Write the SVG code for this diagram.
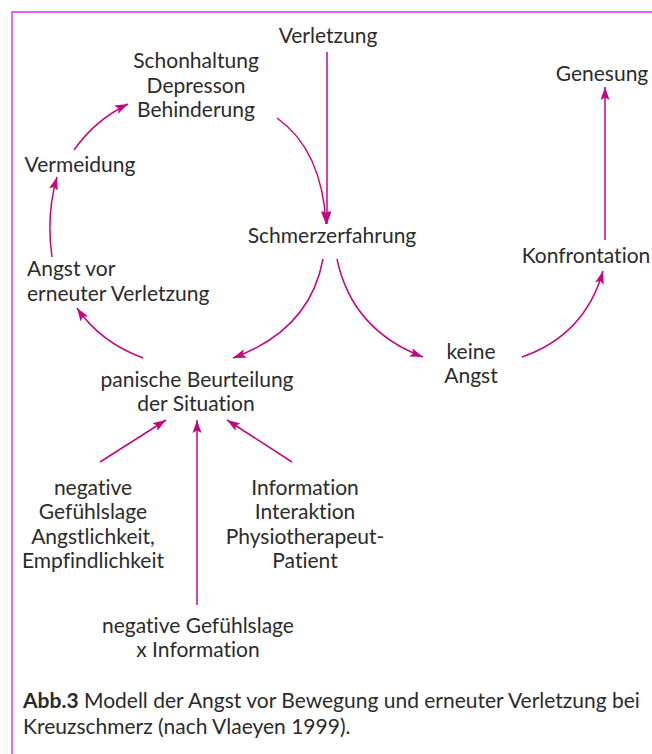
<svg xmlns="http://www.w3.org/2000/svg" width="652" height="754" viewBox="0 0 652 754">
<style>
text{font-family:Lato,"Liberation Sans",sans-serif;font-size:21px;fill:#2b2b2b;font-variant-ligatures:none}
.c{text-anchor:middle}
.cap{font-size:21px}
.b{font-weight:bold}
.frame{stroke:#df2ee0;stroke-width:1.4;fill:none}
.e{stroke:#c4077f;stroke-width:1.5;fill:none;marker-end:url(#ah)}
</style>
<defs>
<marker id="ah" markerUnits="userSpaceOnUse" markerWidth="14" markerHeight="10" refX="13" refY="5" orient="auto">
<path d="M0,0.5 L13,5 L0,9.5 L2.5,5 Z" fill="#c4077f"/>
</marker>
</defs>
<rect width="652" height="754" fill="#fff"/>
<path class="frame" d="M652,12 H12 V754"/>

<g id="verletzung"><text class="c" x="328" y="43">Verletzung</text></g>
<g id="schonhaltung"><text class="c" x="196" y="68">Schonhaltung</text><text class="c" x="196" y="93">Depresson</text><text class="c" x="196" y="117">Behinderung</text></g>
<g id="genesung"><text class="c" x="602" y="81">Genesung</text></g>
<g id="vermeidung"><text class="c" x="80" y="172">Vermeidung</text></g>
<g id="schmerzerfahrung"><text class="c" x="332" y="243">Schmerzerfahrung</text></g>
<g id="konfrontation"><text class="c" x="586" y="263">Konfrontation</text></g>
<g id="angst-vor"><text x="27" y="276">Angst vor</text><text x="27" y="301">erneuter Verletzung</text></g>
<g id="keine-angst"><text class="c" x="471" y="359">keine</text><text class="c" x="471" y="383">Angst</text></g>
<g id="panische"><text class="c" x="197" y="387">panische Beurteilung</text><text class="c" x="196" y="411">der Situation</text></g>
<g id="negative"><text class="c" x="93" y="495">negative</text><text class="c" x="93" y="519">Gefühlslage</text><text class="c" x="93" y="544">Angstlichkeit,</text><text class="c" x="93" y="568">Empfindlichkeit</text></g>
<g id="information"><text class="c" x="305" y="495">Information</text><text class="c" x="305" y="519">Interaktion</text><text class="c" x="305" y="544">Physiotherapeut-</text><text class="c" x="305" y="568">Patient</text></g>
<g id="neg-info"><text class="c" x="198" y="633">negative Gefühlslage</text><text class="c" x="198" y="657">x Information</text></g>

<g id="connectors">
<path class="e" d="M327,52 L327,224"/>
<path class="e" d="M277,118 Q322,150 326,224"/>
<path class="e" d="M323,259 Q310,330 233,358"/>
<path class="e" d="M337,259 Q352,330 423,357"/>
<path class="e" d="M522,357 Q585,335 603,271"/>
<path class="e" d="M605,240 L605,87"/>
<path class="e" d="M143,358 Q100,342 77,308"/>
<path class="e" d="M52,257 Q46,215 57,177"/>
<path class="e" d="M74,150 Q95,120 128,104"/>
<path class="e" d="M100,462 L166,420"/>
<path class="e" d="M197,605 L197,420"/>
<path class="e" d="M292,462 L227,420"/>
</g>

<g id="caption"><text class="cap" x="23" y="708"><tspan class="b">Abb.3</tspan> Modell der Angst vor Bewegung und erneuter Verletzung bei</text><text class="cap" x="23" y="734">Kreuzschmerz (nach Vlaeyen 1999).</text></g>
</svg>
